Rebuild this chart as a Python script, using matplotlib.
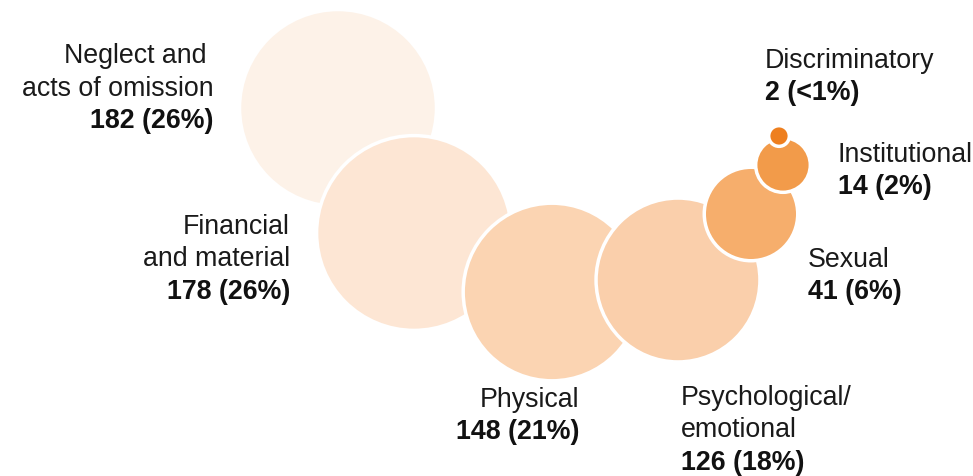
import matplotlib.pyplot as plt
from matplotlib.patches import Circle
import math

plt.rcParams['font.family'] = ['Liberation Sans', 'DejaVu Sans']

# data
names = [['Neglect and ', 'acts of omission'], ['Financial', 'and material'], ['Physical'],
         ['Psychological/', 'emotional'], ['Sexual'], ['Institutional'], ['Discriminatory']]
counts = [182, 178, 148, 126, 41, 14, 2]
pcts = ['26%', '26%', '21%', '18%', '6%', '2%', '<1%']
colors = ['#FDF2E8', '#FDE6D4', '#FBD4B2', '#FACFAB', '#F6AE6C', '#F29B4A', '#EE7F1F']

# layout (pixels, y down)
centers = [(338, 109), (414, 234), (552, 293), (678, 281), (751, 215), (783, 166), (779, 137)]
# label anchor: x, first baseline, alignment
label_pos = [(214, 63, 'right'), (290, 234, 'right'), (579, 407, 'right'),
             (681, 405, 'left'), (808, 267, 'left'), (838, 162, 'left'), (765, 68, 'left')]
k = 7.3        # px per sqrt(count)
step = 32.5    # line step px

fig = plt.figure(figsize=(9.73, 4.77), dpi=100)
ax = fig.add_axes([0, 0, 1, 1])
ax.set_xlim(0, 973)
ax.set_ylim(477, 0)
ax.axis('off')

for (cx, cy), n, c in zip(centers, counts, colors):
    ax.add_patch(Circle((cx, cy), k * math.sqrt(n), facecolor=c, edgecolor='white', lw=2.5))

for lines, n, p, (x, y, ha) in zip(names, counts, pcts, label_pos):
    for i, t in enumerate(lines):
        ax.text(x, y + i * step, t, ha=ha, va='baseline', fontsize=19.3, color='#1a1a1a')
    ax.text(x, y + len(lines) * step, f'{n} ({p})', ha=ha, va='baseline',
            fontsize=19.3, fontweight='bold', color='#111111')

fig.savefig('out.png', dpi=100)
